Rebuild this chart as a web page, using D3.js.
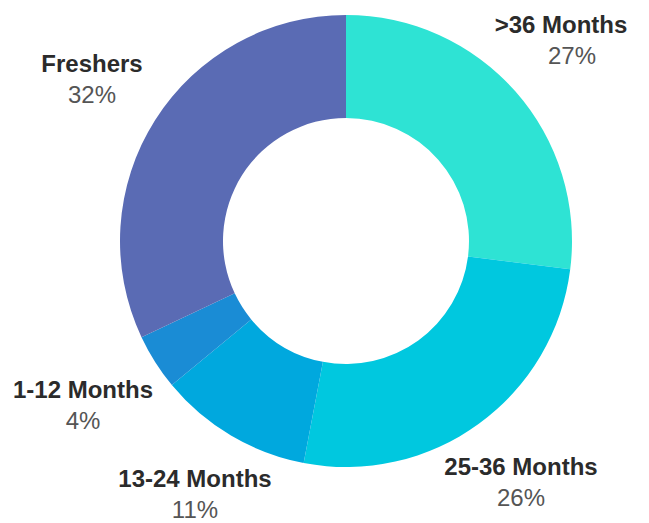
<!DOCTYPE html>
<html><head><meta charset="utf-8">
<script src="https://cdn.jsdelivr.net/npm/d3@7"></script>
<style>html,body{margin:0;padding:0;background:#fff;}</style>
</head><body>
<svg id="c" width="649" height="523"></svg>
<script>
const categories = [">36 Months", "25-36 Months", "13-24 Months", "1-12 Months", "Freshers"];
const values = [27, 26, 11, 4, 32];
const colors = ["#2EE3D4", "#00C8DF", "#00A8DE", "#1A8CD5", "#5A6BB4"];

// label placement (layout, not data): center x of name, baseline of name line, center x of percent
const labelPos = {
  ">36 Months": [561, 33, 572],
  "25-36 Months": [521, 475, 521],
  "13-24 Months": [195, 487, 195],
  "1-12 Months": [83, 398, 83],
  "Freshers": [92, 72, 92]
};

const svg = d3.select("#c");
const cx = 346, cy = 241, R = 226, r = 123;
const pie = d3.pie().sort(null).value(d => d.v);
const data = categories.map((c, i) => ({c, v: values[i], col: colors[i]}));
const arcs = pie(data);
const arc = d3.arc().innerRadius(r).outerRadius(R);
const g = svg.append("g").attr("transform", `translate(${cx},${cy})`);
g.selectAll("path").data(arcs).join("path")
  .attr("d", arc).attr("fill", d => d.data.col);

const font = "'Liberation Sans', Arial, sans-serif";
const lg = svg.append("g");
arcs.forEach(a => {
  const p = labelPos[a.data.c];
  lg.append("text").attr("x", p[0]).attr("y", p[1])
    .attr("text-anchor", "middle")
    .attr("font-family", font)
    .attr("font-weight", "bold").attr("font-size", 24)
    .attr("fill", "#2b2b2b").text(a.data.c);
  lg.append("text").attr("x", p[2]).attr("y", p[1] + 31)
    .attr("text-anchor", "middle")
    .attr("font-family", font)
    .attr("font-size", 24)
    .attr("fill", "#555").text(a.data.v + "%");
});
</script>
</body></html>
